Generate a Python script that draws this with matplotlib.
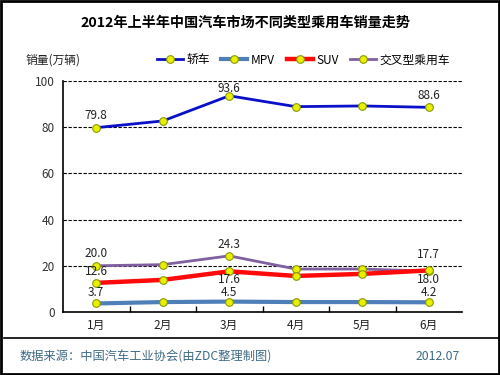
import matplotlib
matplotlib.use("Agg")
import matplotlib.pyplot as plt
from matplotlib.lines import Line2D
from matplotlib.patches import Rectangle

plt.rcParams['font.family'] = ['Noto Sans CJK SC', 'DejaVu Sans']

months = ["1月", "2月", "3月", "4月", "5月", "6月"]
sedan = [79.8, 82.7, 93.6, 88.9, 89.2, 88.6]
mpv = [3.7, 4.3, 4.5, 4.3, 4.3, 4.2]
suv = [12.6, 13.9, 17.6, 15.6, 16.5, 18.0]
cross = [20.0, 20.5, 24.3, 18.6, 18.6, 17.7]
series_names = ["轿车", "MPV", "SUV", "交叉型乘用车"]
yticks = [0, 20, 40, 60, 80, 100]

fig = plt.figure(figsize=(5, 3.75), dpi=100)
ax = fig.add_axes([0.126, 0.168, 0.798, 0.616])

x = list(range(len(months)))
mk = dict(marker='o', markersize=5.5, markerfacecolor='#e8f000', markeredgecolor='#8a9a00', markeredgewidth=0.8)
ax.plot(x, sedan, color='#0a10c8', lw=2, zorder=5, label=series_names[0], **mk)
ax.plot(x, mpv, color='#4f7fb8', lw=3, zorder=5, label=series_names[1], **mk)
ax.plot(x, suv, color='#ff0a0a', lw=3.2, zorder=4, label=series_names[2], **mk)
ax.plot(x, cross, color='#8060a0', lw=2, zorder=3, label=series_names[3], **mk)

ax.set_xlim(-0.5, 5.5)
ax.set_ylim(0, 100)
ax.set_yticks(yticks)
ax.set_yticklabels([str(v) for v in yticks], fontsize=8.5, color='#333333')
ax.set_xticks(x)
ax.set_xticklabels(months, fontsize=8.5, color='#222222')
ax.tick_params(axis='x', which='major', length=0, pad=5)
ax.set_xticks([i + 0.5 for i in range(5)], minor=True)
ax.tick_params(axis='x', which='minor', direction='in', length=4, width=1, color='black')
ax.tick_params(axis='y', length=0, pad=6)
for v in yticks[1:]:
    ax.axhline(v, color='black', lw=0.8, ls=(0, (3, 1.5)), zorder=1)
for s in ['top', 'right']:
    ax.spines[s].set_visible(False)
for s in ['left', 'bottom']:
    ax.spines[s].set_color('black')
    ax.spines[s].set_linewidth(1.2)

# data labels (offsets in points)
def lab(i, vals, dy):
    ax.annotate(f"{vals[i]:.1f}", (i, vals[i]), xytext=(0, dy), textcoords='offset points',
                ha='center', va='center', fontsize=8.5, color='#222222', zorder=6)

lab(0, sedan, 9); lab(2, sedan, 5); lab(5, sedan, 8.5)
lab(0, cross, 8.5); lab(2, cross, 8.5); lab(5, cross, 12)
lab(0, suv, 8.5); lab(2, suv, -6); lab(5, suv, -6.5)
lab(0, mpv, 8); lab(2, mpv, 6.5); lab(5, mpv, 7)

leg = ax.legend(loc='center', bbox_to_anchor=(0.607, 0.84), bbox_transform=fig.transFigure, ncol=4,
                frameon=False, fontsize=8.5, handlelength=2.2, handletextpad=0.3, columnspacing=1.0)

fig.text(0.49, 0.939, "2012年上半年中国汽车市场不同类型乘用车销量走势", ha='center', va='center',
         fontsize=10.2, fontweight='bold', color='black')
fig.text(0.052, 0.84, "销量(万辆)", ha='left', va='center', fontsize=8.5, color='#222222')
fig.text(0.04, 0.048, "数据来源：中国汽车工业协会(由ZDC整理制图)", ha='left', va='center', fontsize=8.8, color='#3f6a85')
fig.text(0.92, 0.048, "2012.07", ha='right', va='center', fontsize=8.8, color='#3f6a85')

fig.add_artist(Line2D([0.008, 1.0], [1 - 338 / 375] * 2, transform=fig.transFigure, color='black', lw=1.2))
fig.add_artist(Rectangle((0.002, 0.003), 0.996, 0.994, transform=fig.transFigure, fill=False, ec='black', lw=2))

fig.savefig("out.png", dpi=100)
